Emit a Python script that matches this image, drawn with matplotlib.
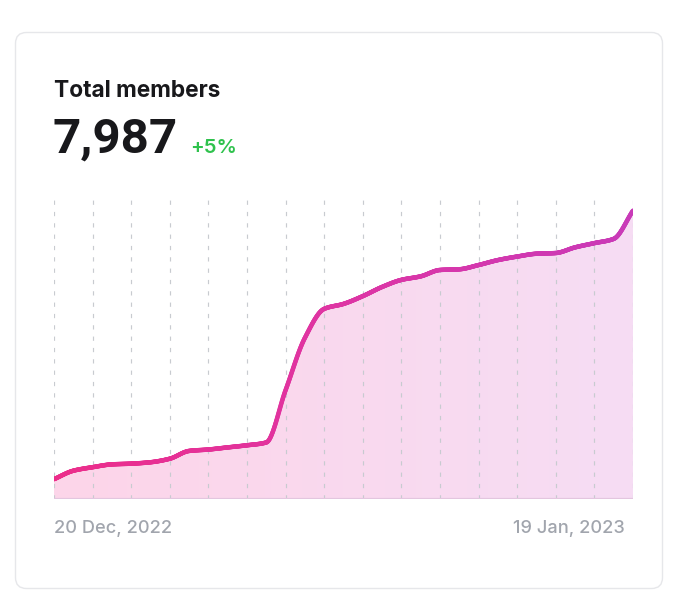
import numpy as np
import matplotlib
matplotlib.use("Agg")
import matplotlib.pyplot as plt
from matplotlib.collections import LineCollection
from matplotlib.patches import FancyBboxPatch, Polygon
from matplotlib.colors import LinearSegmentedColormap

# ---- data ----
title = "Total members"
total_value = "7,987"
change_label = "+5%"
start_label = "20 Dec, 2022"
end_label = "19 Jan, 2023"
days = list(range(31))  # 20 Dec 2022 .. 19 Jan 2023
members = [7607, 7619, 7624, 7628, 7629, 7631, 7636, 7647, 7649, 7652,
           7655, 7659, 7733, 7807, 7848, 7855, 7866, 7879, 7889, 7894,
           7903, 7904, 7910, 7917, 7922, 7926, 7927, 7935, 7941, 7947,
           7987]
y_min, y_max = 7579, 8002
grid_days = list(range(0, 31, 2))

W, H = 680, 604
plt.rcParams['font.family'] = ['Inter', 'DejaVu Sans']
fig = plt.figure(figsize=(W / 100, H / 100), dpi=100)
fig.patch.set_facecolor("white")

# card
bg = fig.add_axes([0, 0, 1, 1])
bg.set_xlim(0, W)
bg.set_ylim(H, 0)
bg.axis("off")
card = FancyBboxPatch((15.5, 32.5), 647, 556, boxstyle="round,pad=0,rounding_size=11",
                      facecolor="white", edgecolor="#e6e7ea", linewidth=1.0)
bg.add_patch(card)

bg.text(54, 97, title, fontsize=16.3, fontweight="bold", color="#18181b",
        ha="left", va="baseline")
bg.text(53, 153, total_value, fontsize=35.5, fontweight="bold", color="#18181b",
        ha="left", va="baseline", family=["Roboto", "DejaVu Sans"])
bg.text(190, 153, change_label, fontsize=14.6, fontweight="semibold", color="#2fc24d",
        ha="left", va="baseline")
bg.text(54, 533, start_label, fontsize=13.1, fontweight="medium", color="#a1a5ad",
        ha="left", va="baseline")
bg.text(625, 533, end_label, fontsize=13.1, fontweight="medium", color="#a1a5ad",
        ha="right", va="baseline")

# chart axes
x0, x1, ytop, ybot = 54, 633, 200, 499
ax = fig.add_axes([x0 / W, 1 - ybot / H, (x1 - x0) / W, (ybot - ytop) / H])
ax.set_xlim(days[0], days[-1])
ax.set_ylim(y_min, y_max)
ax.axis("off")
ax.patch.set_alpha(0)


def pchip(x, y, xs):
    x = np.asarray(x, float)
    y = np.asarray(y, float)
    h = np.diff(x)
    d = np.diff(y) / h
    n = len(x)
    m = np.zeros(n)
    for k in range(1, n - 1):
        if d[k - 1] * d[k] <= 0:
            m[k] = 0
        else:
            w1 = 2 * h[k] + h[k - 1]
            w2 = h[k] + 2 * h[k - 1]
            m[k] = (w1 + w2) / (w1 / d[k - 1] + w2 / d[k])
    m[0] = d[0]
    m[-1] = d[-1]
    idx = np.clip(np.searchsorted(x, xs) - 1, 0, n - 2)
    t = (xs - x[idx]) / h[idx]
    h00 = 2 * t**3 - 3 * t**2 + 1
    h10 = t**3 - 2 * t**2 + t
    h01 = -2 * t**3 + 3 * t**2
    h11 = t**3 - t**2
    return h00 * y[idx] + h10 * h[idx] * m[idx] + h01 * y[idx + 1] + h11 * h[idx] * m[idx + 1]


xs = np.linspace(days[0], days[-1], 1200)
ys = pchip(days, members, xs)

# gradient fill
fill_cmap = LinearSegmentedColormap.from_list("f", ["#fdd5e9", "#f6ddf4"])
grad = np.linspace(0, 1, 256).reshape(1, -1)
im = ax.imshow(grad, extent=[days[0], days[-1], y_min, y_max], aspect="auto",
               cmap=fill_cmap, zorder=1, origin="lower")
poly = Polygon(np.column_stack([np.r_[xs[0], xs, xs[-1]], np.r_[y_min, ys, y_min]]),
               closed=True, facecolor="none", edgecolor="none")
ax.add_patch(poly)
im.set_clip_path(poly)

# dashed grid
for g in grid_days:
    ax.axvline(g, color="#c8cbd0", linewidth=0.85, linestyle=(0, (3.6, 6.0)), zorder=2)

# baseline
ax.axhline(y_min, color="#e3c6df", linewidth=1.6, zorder=3)

# gradient line
pts = np.column_stack([xs, ys]).reshape(-1, 1, 2)
segs = np.concatenate([pts[:-1], pts[1:]], axis=1)
line_cmap = LinearSegmentedColormap.from_list("l", ["#ec2d8a", "#de35a4", "#c93ab8"])
lc = LineCollection(segs, cmap=line_cmap, linewidth=3.2, capstyle="round", zorder=4)
lc.set_array((xs[:-1] - xs[0]) / (xs[-1] - xs[0]))
lc.set_clim(0, 1)
ax.add_collection(lc)

fig.savefig("out.png", dpi=100, facecolor="white")
